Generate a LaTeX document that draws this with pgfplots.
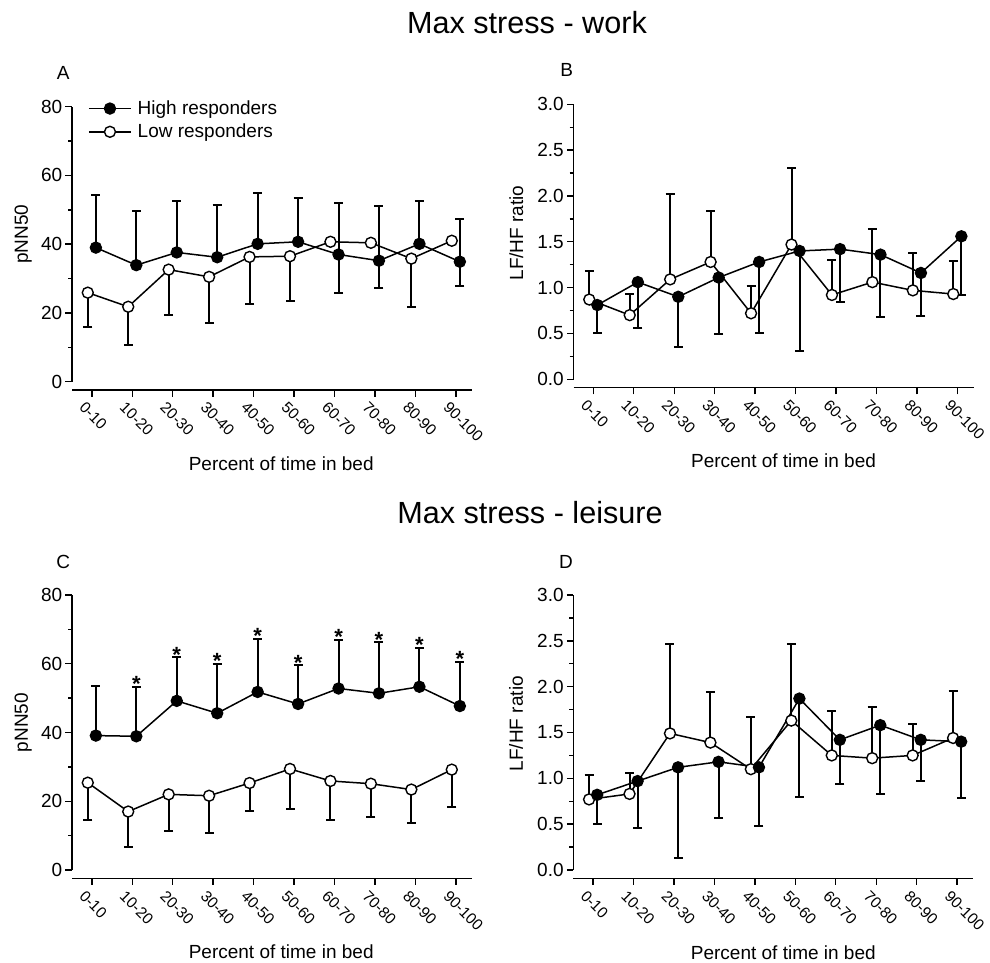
\documentclass[border=0pt]{standalone}
\usepackage{fontspec}
\setmainfont{Liberation Sans}
\usepackage{pgfplots}
\pgfplotsset{compat=1.18}
\newcommand{\lbl}{\fontsize{19}{23}\selectfont}
\newcommand{\xtl}{\fontsize{15.5}{18}\selectfont}
\newcommand{\ttl}{\fontsize{30.6}{36}\selectfont}

\pgfplotsset{
  panel/.style={
    scale only axis, width=400pt, height=275pt,
    xmin=-0.49, xmax=9.4,
    axis x line=bottom, axis y line=left,
    axis line style={-, line width=1.4pt, black},
    axis x line shift=8.5pt,
    tick align=outside,
    major tick length=6.5pt, minor tick length=4pt,
    every tick/.style={line width=1.4pt, black},
    xtick={0,...,9},
    xticklabels={0-10,10-20,20-30,30-40,40-50,50-60,60-70,70-80,80-90,90-100},
    xticklabel style={rotate=-45, anchor=north west, font=\xtl, inner sep=0pt, yshift=-7pt, xshift=-1pt},
    yticklabel style={font=\lbl, inner sep=3pt},
    minor y tick num=1,
    /pgf/number format/assume math mode=true,
    xlabel={Percent of time in bed},
    label style={font=\lbl},
    xlabel style={at={(axis description cs:0.523,-0.297)}, anchor=center},
    clip=false,
    legend image code/.code={\draw[##1, mark repeat=2, mark phase=2] plot coordinates {(0pt,0pt) (21pt,0pt) (42pt,0pt)};},
  },
  pnn/.style={ymin=0, ymax=80, ytick={0,20,40,60,80}, ylabel={pNN50},
    ylabel style={at={(axis description cs:-0.11,0.536)}, anchor=base}},
  lfhf/.style={ymin=0, ymax=3, ytick={0,0.5,1,1.5,2,2.5,3}, ylabel={LF/HF ratio},
    ylabel style={at={(axis description cs:-0.126,0.532)}, anchor=base},
    yticklabel style={/pgf/number format/fixed, /pgf/number format/fixed zerofill, /pgf/number format/precision=1}},
  eb/.style={draw=none, mark=none, forget plot,
    error bars/y explicit, error bars/y dir=#1,
    error bars/error bar style={draw=black, line width=2pt},
    error bars/error mark options={rotate=90, draw=black, line width=2pt, mark size=4.5pt}},
  high/.style={black, line width=1.5pt, mark=*, mark size=5.5pt, mark options={fill=black, line width=1.4pt}},
  low/.style={black, line width=1.5pt, mark=*, mark size=5.5pt, mark options={fill=white, line width=1.4pt}},
}

\begin{document}
\begin{tikzpicture}
\useasboundingbox[fill=white] (0,0) rectangle (990pt,963pt);

\node[font=\ttl, anchor=base] at (527pt,929.7pt) {Max stress - work};
\node[font=\ttl, anchor=base] at (530pt,439.7pt) {Max stress - leisure};
\node[font=\lbl, anchor=base] at (63.3pt,883pt) {A};
\node[font=\lbl, anchor=base] at (566.7pt,886.3pt) {B};
\node[font=\lbl, anchor=base] at (63.3pt,394.7pt) {C};
\node[font=\lbl, anchor=base] at (566pt,394.7pt) {D};

% ---------------- Panel A ----------------
\begin{axis}[panel, pnn, at={(72pt,581.3pt)}, anchor=south west,
  legend style={at={(axis description cs:0.04,1.029)}, anchor=north west, draw=none, fill=none,
    font=\lbl, inner sep=0pt, row sep=4pt, cells={anchor=west},
    /tikz/every odd column/.append style={column sep=4pt}},
  legend cell align=left]
% error bars: low responders (SD downward)
\addplot[eb=minus] coordinates {
 (-0.1,25.9) +- (0,10.1) (0.9,21.8) +- (0,11.0) (1.9,32.6) +- (0,13.3) (2.9,30.5) +- (0,13.5)
 (3.9,36.3) +- (0,13.7) (4.9,36.5) +- (0,12.9) (6.1,40.7) +- (0,15.0) (7.1,40.4) +- (0,13.2)
 (7.9,35.8) +- (0,14.2) (9.1,41.0) +- (0,13.1)};
% error bars: high responders (SD upward)
\addplot[eb=plus] coordinates {
 (0.1,39.0) +- (0,15.2) (1.1,33.9) +- (0,15.9) (2.1,37.6) +- (0,14.9) (3.1,36.2) +- (0,15.2)
 (4.1,40.1) +- (0,14.7) (5.1,40.7) +- (0,12.7) (6.1,37.0) +- (0,15.1) (7.1,35.2) +- (0,15.9)
 (8.1,40.1) +- (0,12.6) (9.1,34.9) +- (0,12.4)};
\addplot[high] coordinates {
 (0.1,39.0) (1.1,33.9) (2.1,37.6) (3.1,36.2) (4.1,40.1) (5.1,40.7) (6.1,37.0) (7.1,35.2) (8.1,40.1) (9.1,34.9)};
\addlegendentry{High responders}
\addplot[low] coordinates {
 (-0.1,25.9) (0.9,21.8) (1.9,32.6) (2.9,30.5) (3.9,36.3) (4.9,36.5) (5.9,40.7) (6.9,40.4) (7.9,35.8) (8.9,41.0)};
\addlegendentry{Low responders}
\end{axis}

% ---------------- Panel B ----------------
\begin{axis}[panel, lfhf, at={(573.5pt,583.7pt)}, anchor=south west,
  xlabel style={at={(axis description cs:0.525,-0.297)}, anchor=center}]
\addplot[eb=plus] coordinates {
 (-0.1,0.87) +- (0,0.31) (0.9,0.70) +- (0,0.23) (1.9,1.09) +- (0,0.93) (2.9,1.28) +- (0,0.56)
 (3.9,0.72) +- (0,0.30) (4.9,1.47) +- (0,0.84) (5.9,0.92) +- (0,0.38) (6.9,1.06) +- (0,0.58)
 (7.9,0.97) +- (0,0.41) (8.9,0.93) +- (0,0.36)};
\addplot[eb=minus] coordinates {
 (0.1,0.81) +- (0,0.30) (1.1,1.06) +- (0,0.50) (2.1,0.90) +- (0,0.55) (3.1,1.11) +- (0,0.62)
 (4.1,1.28) +- (0,0.78) (5.1,1.40) +- (0,1.09) (6.1,1.42) +- (0,0.58) (7.1,1.36) +- (0,0.68)
 (8.1,1.16) +- (0,0.47) (9.1,1.56) +- (0,0.64)};
\addplot[low] coordinates {
 (-0.1,0.87) (0.9,0.70) (1.9,1.09) (2.9,1.28) (3.9,0.72) (4.9,1.47) (5.9,0.92) (6.9,1.06) (7.9,0.97) (8.9,0.93)};
\addplot[high] coordinates {
 (0.1,0.81) (1.1,1.06) (2.1,0.90) (3.1,1.11) (4.1,1.28) (5.1,1.40) (6.1,1.42) (7.1,1.36) (8.1,1.16) (9.1,1.56)};
\end{axis}

% ---------------- Panel C ----------------
\begin{axis}[panel, pnn, at={(72pt,93pt)}, anchor=south west]
\addplot[eb=minus] coordinates {
 (-0.1,25.4) +- (0,11.0) (0.9,17.0) +- (0,10.2) (1.9,22.0) +- (0,10.8) (2.9,21.6) +- (0,10.7)
 (3.9,25.3) +- (0,8.0) (4.9,29.4) +- (0,11.8) (5.9,25.9) +- (0,11.3) (6.9,25.1) +- (0,9.8)
 (7.9,23.4) +- (0,9.8) (8.9,29.2) +- (0,10.8)};
\addplot[eb=plus] coordinates {
 (0.1,39.1) +- (0,14.4) (1.1,38.9) +- (0,14.4) (2.1,49.2) +- (0,12.7) (3.1,45.6) +- (0,14.4)
 (4.1,51.8) +- (0,15.5) (5.1,48.3) +- (0,11.2) (6.1,52.8) +- (0,14.2) (7.1,51.4) +- (0,14.8)
 (8.1,53.3) +- (0,11.3) (9.1,47.7) +- (0,12.8)};
\addplot[low] coordinates {
 (-0.1,25.4) (0.9,17.0) (1.9,22.0) (2.9,21.6) (3.9,25.3) (4.9,29.4) (5.9,25.9) (6.9,25.1) (7.9,23.4) (8.9,29.2)};
\addplot[high] coordinates {
 (0.1,39.1) (1.1,38.9) (2.1,49.2) (3.1,45.6) (4.1,51.8) (5.1,48.3) (6.1,52.8) (7.1,51.4) (8.1,53.3) (9.1,47.7)};
\addplot[only marks, mark=*, mark size=0.01pt, mark options={draw=none, fill=none},
  nodes near coords={\textbf{*}},
  every node near coord/.append style={font=\fontsize{22}{24}\selectfont, anchor=south, inner sep=0pt, yshift=-5pt}]
 coordinates {(1.1,53.3) (2.1,61.9) (3.1,60.0) (4.1,67.3) (5.1,59.5) (6.1,67.0) (7.1,66.2) (8.1,64.6) (9.1,60.5)};
\end{axis}

% ---------------- Panel D ----------------
\begin{axis}[panel, lfhf, at={(573.3pt,93pt)}, anchor=south west,
  xlabel style={at={(axis description cs:0.525,-0.3)}, anchor=center}]
\addplot[eb=plus] coordinates {
 (-0.1,0.77) +- (0,0.27) (0.9,0.83) +- (0,0.23) (1.9,1.49) +- (0,0.97) (2.9,1.39) +- (0,0.55)
 (3.9,1.10) +- (0,0.57) (4.9,1.63) +- (0,0.83) (5.9,1.25) +- (0,0.48) (6.9,1.22) +- (0,0.56)
 (7.9,1.25) +- (0,0.34) (8.9,1.44) +- (0,0.51)};
\addplot[eb=minus] coordinates {
 (0.1,0.82) +- (0,0.32) (1.1,0.97) +- (0,0.51) (2.1,1.12) +- (0,0.99) (3.1,1.18) +- (0,0.61)
 (4.1,1.12) +- (0,0.64) (5.1,1.87) +- (0,1.07) (6.1,1.42) +- (0,0.48) (7.1,1.58) +- (0,0.75)
 (8.1,1.42) +- (0,0.45) (9.1,1.40) +- (0,0.61)};
\addplot[low] coordinates {
 (-0.1,0.77) (0.9,0.83) (1.9,1.49) (2.9,1.39) (3.9,1.10) (4.9,1.63) (5.9,1.25) (6.9,1.22) (7.9,1.25) (8.9,1.44)};
\addplot[high] coordinates {
 (0.1,0.82) (1.1,0.97) (2.1,1.12) (3.1,1.18) (4.1,1.12) (5.1,1.87) (6.1,1.42) (7.1,1.58) (8.1,1.42) (9.1,1.40)};
\end{axis}
\end{tikzpicture}
\end{document}
